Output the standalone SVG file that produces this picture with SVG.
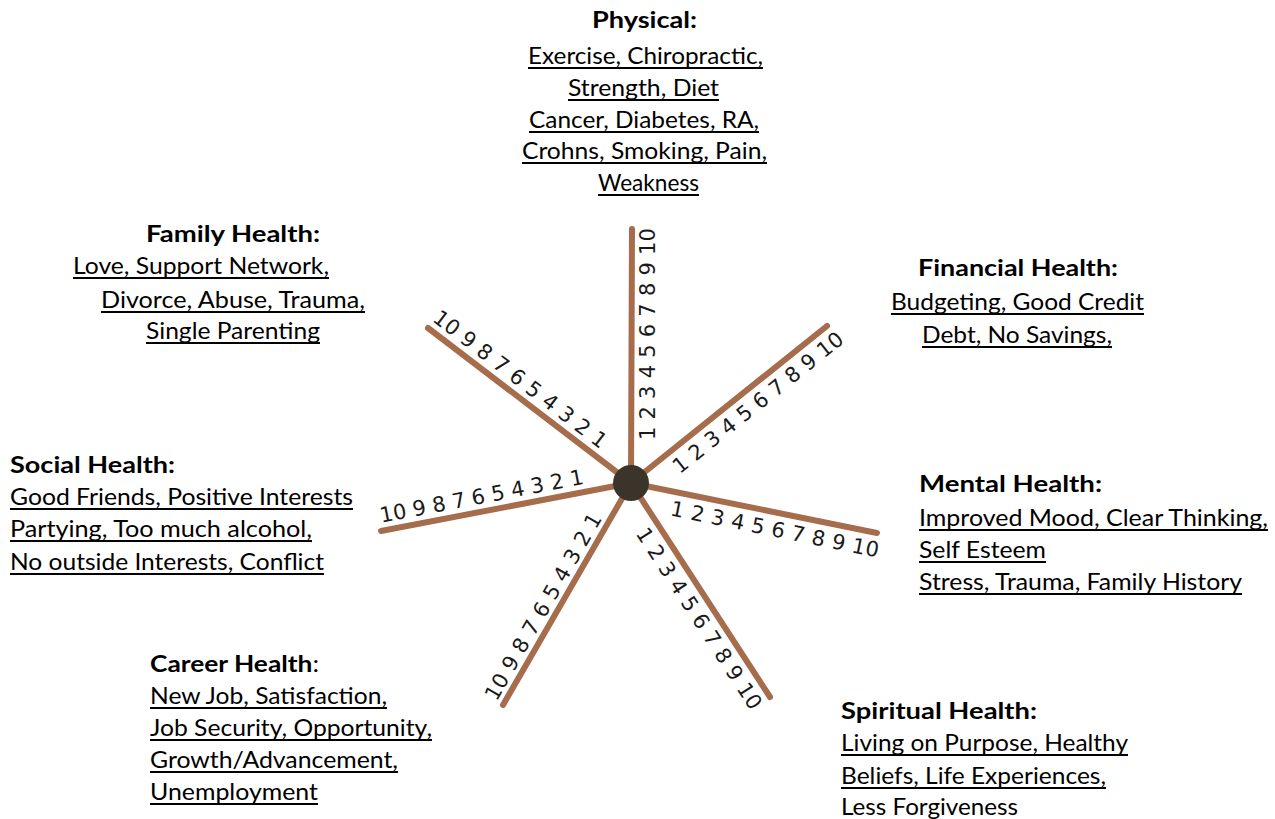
<svg xmlns="http://www.w3.org/2000/svg" width="1275" height="819" viewBox="0 0 1275 819">
<style>
.t{font-family:Lato,"Noto Sans",sans-serif;font-size:23px;fill:#000}
.h{font-weight:700}
.ul{stroke:#000;stroke-width:1.8;fill:none}
.n{font-family:"DejaVu Sans",sans-serif;font-size:21px;fill:#1a1a1a}
.spoke{stroke:#a66d4c;stroke-width:6;stroke-linecap:round;fill:none}
</style>
<rect width="1275" height="819" fill="#fff"/>
<g id="connectors">
<line class="spoke" x1="631" y1="483" x2="632" y2="229"/>
<line class="spoke" x1="631" y1="483" x2="827" y2="326"/>
<line class="spoke" x1="631" y1="483" x2="877" y2="533"/>
<line class="spoke" x1="631" y1="483" x2="770" y2="697"/>
<line class="spoke" x1="631" y1="483" x2="503" y2="705"/>
<line class="spoke" x1="631" y1="483" x2="381" y2="531"/>
<line class="spoke" x1="631" y1="483" x2="428" y2="328"/>
</g>
<g id="scales">
<text class="n" transform="translate(655,440) rotate(-90)" textLength="212" lengthAdjust="spacing">1 2 3 4 5 6 7 8 9 10</text>
<text class="n" transform="translate(679.7,474.5) rotate(-38.7)" textLength="212" lengthAdjust="spacing">1 2 3 4 5 6 7 8 9 10</text>
<text class="n" transform="translate(669.5,515.3) rotate(11.49)" textLength="212" lengthAdjust="spacing">1 2 3 4 5 6 7 8 9 10</text>
<text class="n" transform="translate(635.2,533.4) rotate(56.99)" textLength="212" lengthAdjust="spacing">1 2 3 4 5 6 7 8 9 10</text>
<text class="n" transform="translate(496.5,702.1) rotate(-60.03)" textLength="212" lengthAdjust="spacing">10 9 8 7 6 5 4 3 2 1</text>
<text class="n" transform="translate(381.3,522.8) rotate(-10.87)" textLength="207" lengthAdjust="spacing">10 9 8 7 6 5 4 3 2 1</text>
<text class="n" transform="translate(431.6,320.6) rotate(37.37)" textLength="212" lengthAdjust="spacing">10 9 8 7 6 5 4 3 2 1</text>
</g>
<g id="hub">
<circle cx="631" cy="483" r="18" fill="#3b342a"/>
</g>
<g id="physical">
<text class="t h" x="592" y="28" textLength="105" lengthAdjust="spacingAndGlyphs">Physical:</text>
<text class="t" x="528" y="64" textLength="235" lengthAdjust="spacingAndGlyphs">Exercise, Chiropractic,</text>
<text class="t" x="568" y="96" textLength="151" lengthAdjust="spacingAndGlyphs">Strength, Diet</text>
<text class="t" x="529" y="128" textLength="230" lengthAdjust="spacingAndGlyphs">Cancer, Diabetes, RA,</text>
<text class="t" x="522" y="159" textLength="245" lengthAdjust="spacingAndGlyphs">Crohns, Smoking, Pain,</text>
<text class="t" x="598" y="191" textLength="101" lengthAdjust="spacingAndGlyphs">Weakness</text>
<path class="ul" d="M528 68h235M568 100h151M529 132h230M522 163h245M598 195h101"/>
</g>
<g id="family">
<text class="t h" x="146" y="242" textLength="174" lengthAdjust="spacingAndGlyphs">Family Health:</text>
<text class="t" x="73" y="274" textLength="256" lengthAdjust="spacingAndGlyphs">Love, Support Network,</text>
<text class="t" x="101" y="308" textLength="264" lengthAdjust="spacingAndGlyphs">Divorce, Abuse, Trauma,</text>
<text class="t" x="146" y="339" textLength="174" lengthAdjust="spacingAndGlyphs">Single Parenting</text>
<path class="ul" d="M73 278h256M101 312h264M146 343h174"/>
</g>
<g id="financial">
<text class="t h" x="918" y="276" textLength="200" lengthAdjust="spacingAndGlyphs">Financial Health:</text>
<text class="t" x="891" y="310" textLength="253" lengthAdjust="spacingAndGlyphs">Budgeting, Good Credit</text>
<text class="t" x="922" y="343" textLength="190" lengthAdjust="spacingAndGlyphs">Debt, No Savings,</text>
<path class="ul" d="M891 314h253M922 347h190"/>
</g>
<g id="social">
<text class="t h" x="10" y="473" textLength="165" lengthAdjust="spacingAndGlyphs">Social Health:</text>
<text class="t" x="10" y="505" textLength="343" lengthAdjust="spacingAndGlyphs">Good Friends, Positive Interests</text>
<text class="t" x="10" y="537" textLength="302" lengthAdjust="spacingAndGlyphs">Partying, Too much alcohol,</text>
<text class="t" x="10" y="570" textLength="314" lengthAdjust="spacingAndGlyphs">No outside Interests, Conflict</text>
<path class="ul" d="M10 509h343M10 541h302M10 574h314"/>
</g>
<g id="mental">
<text class="t h" x="919" y="492" textLength="183" lengthAdjust="spacingAndGlyphs">Mental Health:</text>
<text class="t" x="919" y="526" textLength="349" lengthAdjust="spacingAndGlyphs">Improved Mood, Clear Thinking,</text>
<text class="t" x="919" y="558" textLength="127" lengthAdjust="spacingAndGlyphs">Self Esteem</text>
<text class="t" x="919" y="590" textLength="323" lengthAdjust="spacingAndGlyphs">Stress, Trauma, Family History</text>
<path class="ul" d="M919 530h349M919 562h127M919 594h323"/>
</g>
<g id="career">
<text class="t" x="150" y="672" textLength="169" lengthAdjust="spacingAndGlyphs"><tspan class="h">Career Health</tspan>:</text>
<text class="t" x="150" y="704" textLength="237" lengthAdjust="spacingAndGlyphs">New Job, Satisfaction,</text>
<text class="t" x="150" y="736" textLength="282" lengthAdjust="spacingAndGlyphs">Job Security, Opportunity,</text>
<text class="t" x="150" y="768" textLength="248" lengthAdjust="spacingAndGlyphs">Growth/Advancement,</text>
<text class="t" x="150" y="800" textLength="168" lengthAdjust="spacingAndGlyphs">Unemployment</text>
<path class="ul" d="M150 708h237M150 740h282M150 772h248M150 804h168"/>
</g>
<g id="spiritual">
<text class="t h" x="841" y="719" textLength="196" lengthAdjust="spacingAndGlyphs">Spiritual Health:</text>
<text class="t" x="841" y="751" textLength="287" lengthAdjust="spacingAndGlyphs">Living on Purpose, Healthy</text>
<text class="t" x="841" y="784" textLength="265" lengthAdjust="spacingAndGlyphs">Beliefs, Life Experiences,</text>
<text class="t" x="841" y="815" textLength="177" lengthAdjust="spacingAndGlyphs">Less Forgiveness</text>
<path class="ul" d="M841 755h287M841 788h265"/>
</g>
</svg>
